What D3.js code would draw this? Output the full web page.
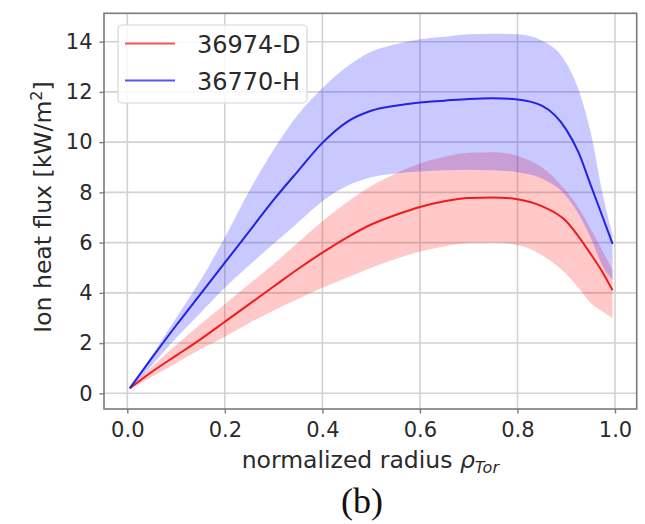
<!DOCTYPE html>
<html>
<head>
<meta charset="utf-8">
<script src="https://cdn.jsdelivr.net/npm/d3@7.9.0/dist/d3.min.js"></script>
<style>
  body { margin: 0; background: #fff; }
  svg { display: block; }
  .tick text { font-family: "DejaVu Sans", sans-serif; fill: #2a2a2a; }
</style>
</head>
<body>
<svg id="chart" width="645" height="524"></svg>
<script>
// normalized radius samples
const rho = [0.005, 0.05, 0.1, 0.15, 0.2, 0.25, 0.3, 0.35, 0.4, 0.45, 0.5, 0.55,
  0.6, 0.65, 0.7, 0.75, 0.8, 0.85, 0.9, 0.925, 0.95, 0.975, 0.995];

// 36974-D (red)
const dMean = [0.2, 0.85, 1.5, 2.15, 2.85, 3.55, 4.25, 4.95, 5.6, 6.2, 6.72, 7.1,
  7.42, 7.65, 7.78, 7.8, 7.73, 7.45, 6.85, 6.25, 5.55, 4.8, 4.1];
const dUpper = [0.25, 1.05, 1.92, 2.75, 3.55, 4.35, 5.15, 6.0, 6.85, 7.6, 8.25, 8.75,
  9.15, 9.42, 9.58, 9.6, 9.45, 9.0, 8.05, 7.4, 6.55, 5.65, 4.9];
const dLower = [0.15, 0.65, 1.2, 1.75, 2.25, 2.8, 3.3, 3.75, 4.2, 4.6, 5.0, 5.35,
  5.65, 5.85, 5.98, 6.0, 5.9, 5.5, 4.75, 4.2, 3.6, 3.25, 3.0];

// 36770-H (blue)
const hMean = [0.2, 1.4, 2.7, 3.95, 5.2, 6.45, 7.7, 8.85, 9.97, 10.8, 11.25, 11.45,
  11.58, 11.65, 11.72, 11.75, 11.7, 11.45, 10.5, 9.6, 8.3, 7.0, 5.95];
const hUpper = [0.25, 1.5, 3.0, 4.5, 6.2, 8.05, 9.7, 11.1, 12.15, 13.0, 13.6, 13.9,
  14.1, 14.2, 14.3, 14.32, 14.3, 14.05, 13.15, 12.1, 10.4, 7.9, 6.3];
const hLower = [0.15, 1.1, 2.2, 3.2, 4.2, 5.1, 5.95, 6.8, 7.65, 8.25, 8.6, 8.75,
  8.83, 8.88, 8.9, 8.88, 8.8, 8.55, 7.85, 7.15, 6.2, 5.05, 4.5];

const xTicks = [0, 0.2, 0.4, 0.6, 0.8, 1.0];
const yTicks = [0, 2, 4, 6, 8, 10, 12, 14];

const series = [
  { label: "36974-D", color: "#f01c1c", fill: "#ff0000", mean: dMean, lo: dLower, hi: dUpper },
  { label: "36770-H", color: "#2222e6", fill: "#0000ff", mean: hMean, lo: hLower, hi: hUpper },
];

const plotLeft = 104, plotRight = 636.7, plotTop = 13.3, plotBottom = 409;

const x = d3.scaleLinear().domain([-0.0478, 1.0445]).range([plotLeft, plotRight]);
const y = d3.scaleLinear().domain([-0.625, 15.13]).range([plotBottom, plotTop]);

const svg = d3.select("#chart");

// grid
svg.append("g")
  .selectAll("line")
  .data(xTicks)
  .join("line")
  .attr("x1", (d) => x(d)).attr("x2", (d) => x(d))
  .attr("y1", plotTop).attr("y2", plotBottom)
  .attr("stroke", "#d2d2d2").attr("stroke-width", 1.6);
svg.append("g")
  .selectAll("line")
  .data(yTicks)
  .join("line")
  .attr("x1", plotLeft).attr("x2", plotRight)
  .attr("y1", (d) => y(d)).attr("y2", (d) => y(d))
  .attr("stroke", "#d2d2d2").attr("stroke-width", 1.6);

const curve = d3.curveMonotoneX;

series.forEach((s) => {
  const area = d3.area()
    .x((d, i) => x(rho[i]))
    .y0((d, i) => y(s.lo[i]))
    .y1((d, i) => y(s.hi[i]))
    .curve(curve);
  svg.append("path")
    .attr("d", area(rho))
    .attr("fill", s.fill)
    .attr("fill-opacity", 0.21);
});

series.forEach((s) => {
  const line = d3.line()
    .x((d, i) => x(rho[i]))
    .y((d, i) => y(s.mean[i]))
    .curve(curve);
  svg.append("path")
    .attr("d", line(rho))
    .attr("fill", "none")
    .attr("stroke", s.color)
    .attr("stroke-width", 2);
});

// axes
const xAxis = svg.append("g")
  .attr("transform", `translate(0,${plotBottom})`)
  .call(d3.axisBottom(x).tickValues(xTicks).tickFormat(d3.format(".1f")).tickSizeInner(4.5).tickSizeOuter(0).tickPadding(8));
const yAxis = svg.append("g")
  .attr("transform", `translate(${plotLeft},0)`)
  .call(d3.axisLeft(y).tickValues(yTicks).tickSizeInner(4.5).tickSizeOuter(0).tickPadding(7));

[xAxis, yAxis].forEach((g) => {
  g.select(".domain").remove();
  g.selectAll(".tick line").attr("stroke", "#7a7a7a").attr("stroke-width", 1.4);
  g.selectAll(".tick text").attr("font-size", 21);
});
xAxis.selectAll(".tick text").attr("dy", "0.72em");

// frame
svg.append("rect")
  .attr("x", plotLeft).attr("y", plotTop)
  .attr("width", plotRight - plotLeft).attr("height", plotBottom - plotTop)
  .attr("fill", "none")
  .attr("stroke", "#7a7a7a")
  .attr("stroke-width", 1.6);

// legend
const lg = svg.append("g");
lg.append("rect")
  .attr("x", 118).attr("y", 25).attr("width", 189).attr("height", 78)
  .attr("rx", 4)
  .attr("fill", "#fff").attr("fill-opacity", 0.85)
  .attr("stroke", "#d6d6d6").attr("stroke-width", 1.2);
series.forEach((s, i) => {
  const cy = 43.5 + i * 37;
  lg.append("line")
    .attr("x1", 125).attr("x2", 175)
    .attr("y1", cy).attr("y2", cy)
    .attr("stroke", s.color).attr("stroke-width", 2.2).attr("stroke-opacity", 0.75);
  lg.append("text")
    .attr("x", 197).attr("y", cy + 9)
    .attr("font-family", "DejaVu Sans, sans-serif")
    .attr("font-size", 24)
    .attr("fill", "#2a2a2a")
    .text(s.label);
});

// axis labels
const xl = svg.append("text")
  .attr("x", (plotLeft + plotRight) / 2).attr("y", 468)
  .attr("text-anchor", "middle")
  .attr("font-family", "DejaVu Sans, sans-serif")
  .attr("font-size", 23.5)
  .attr("fill", "#2a2a2a");
xl.append("tspan").text("normalized radius ");
xl.append("tspan").attr("font-style", "italic").text("ρ");
xl.append("tspan").attr("font-style", "italic").attr("font-size", 16).attr("dy", 5).text("Tor");

const yl = svg.append("text")
  .attr("transform", `translate(51,207) rotate(-90)`)
  .attr("text-anchor", "middle")
  .attr("font-family", "DejaVu Sans, sans-serif")
  .attr("font-size", 23.5)
  .attr("fill", "#2a2a2a");
yl.append("tspan").text("Ion heat flux [kW/m");
yl.append("tspan").attr("font-size", 16).attr("dy", -9).text("2");
yl.append("tspan").attr("dy", 9).text("]");

// panel tag
svg.append("text")
  .attr("x", 362).attr("y", 513)
  .attr("text-anchor", "middle")
  .attr("font-family", "Liberation Serif, serif")
  .attr("font-size", 36)
  .attr("fill", "#111")
  .text("(b)");
</script>
</body>
</html>
